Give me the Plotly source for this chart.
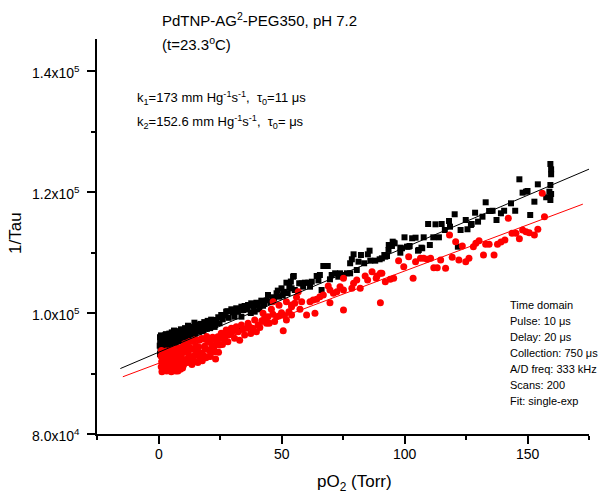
import numpy as np
import plotly.graph_objects as go

# ---------------- data ----------------
black_x = [
    0.6, 0.7, 0.5, 0.8, 0.6, 1.2, 1.5, 1.8, 2.0, 2.3, 2.6, 2.9, 3.2, 3.5, 3.8, 4.1, 4.4, 4.7, 5.0,
    5.4, 5.8, 6.1, 6.5, 6.8, 7.2, 7.6, 8.0, 8.3, 8.7, 9.1, 9.5, 9.8, 1.0, 3.0, 2.2, 4.5, 6.3, 7.0,
    0.9, 1.6, 2.4, 2.8, 3.3, 3.9, 4.3, 4.9, 5.2, 5.7, 6.0, 6.6, 7.3, 7.8, 8.5, 9.0, 9.6,
    10.3, 10.8, 11.4, 12.0, 12.6, 13.2, 13.8, 14.6, 15.2, 15.9, 16.5, 17.2, 17.9, 18.6, 19.3, 20.0,
    20.7, 21.4, 22.1, 22.8,
    10.5, 11.0, 11.8, 12.3, 13.0, 13.5, 14.2, 14.9, 15.6, 16.2, 16.9, 17.6, 18.2, 19.0, 19.7, 20.3,
    21.0, 21.7, 22.4, 23.0,
    23.4, 24.8, 25.5, 26.1, 27.5, 28.5, 29.6, 30.9, 31.6, 33.0, 33.7, 33.7, 35.0, 36.4, 37.5, 37.7,
    39.1, 39.8, 41.0, 41.8, 43.0, 44.5, 45.5, 47.0, 48.0, 49.0, 50.0, 51.0, 52.0, 53.2, 54.1, 54.7,
    55.0, 55.4,
    24.3, 27.0, 28.0, 30.2, 32.3, 34.5, 36.0, 38.5, 40.3, 42.5, 44.0, 46.3, 48.5, 50.5, 52.5, 53.8,
    57.2, 58.2, 58.8, 59.5, 60.9, 61.6, 62.3, 64.3, 65.0, 65.6, 66.3, 67.0, 68.8, 69.7, 70.4, 71.8,
    73.1, 73.8, 75.2, 76.6, 77.9, 77.9, 78.6, 79.3, 80.6, 81.3, 82.3, 83.6, 85.1, 85.8, 86.1, 88.1,
    89.9, 90.8, 91.8, 92.2, 92.9, 93.5, 93.6,
    94.9, 95.2, 95.6, 96.0, 98.3, 98.3, 99.0, 100.0, 101.0, 101.7, 102.1, 103.1, 104.5, 105.5, 105.8,
    106.9, 107.2, 107.8, 109.6, 110.3, 111.7, 112.6, 114.0, 115.1, 116.4, 118.1, 118.5, 120.4, 121.7,
    122.8, 124.9, 125.6, 127.0, 127.3, 128.7, 129.9, 131.7, 133.0, 134.4, 135.0, 135.8, 137.4, 139.2,
    140.5, 143.3, 145.0, 146.7, 148.0, 149.4, 150.0, 151.1, 152.8, 154.2, 157.6, 158.9, 159.3, 159.3,
    159.6, 159.6, 159.6, 159.3,
]
black_y = [
    96000, 95300, 94600, 93900, 93200, 95800, 94800, 96100, 93700, 95200, 96300, 94300, 95700, 96400,
    93900, 95000, 96600, 95900, 94500, 96800, 95400, 96500, 94900, 96900, 95700, 96300, 97000, 95400,
    96600, 97300, 96000, 97200, 96300, 96500, 94600, 94000, 97100, 94800,
    95000, 95500, 95800, 95000, 94800, 95400, 95800, 96100, 95300, 96300, 95700, 96100, 96700, 95300,
    95900, 96400, 96700,
    96300, 97500, 96800, 97900, 97200, 96500, 97700, 98400, 97400, 98100, 96900, 98200, 97600, 98500,
    97900, 98700, 98000, 98900, 98200, 97700,
    95600, 96400, 97300, 96100, 97600, 96900, 97100, 96600, 97700, 97600, 97300, 98000, 97000, 98300,
    97400, 98100, 97500, 98400, 98600, 98000,
    98840, 98300, 99670, 98960, 100220, 99200, 100610, 99390, 100780, 97310, 101040, 99390, 101160,
    101320, 100000, 101600, 100220, 101700, 100600, 102040, 101500, 102980, 101800, 102430, 103260,
    102700, 104080, 103500, 105010, 104300, 104080, 106000, 106120, 103800,
    99300, 99600, 100300, 100100, 100200, 100500, 100600, 101000, 101200, 101200, 102100, 102600,
    103700, 102900, 103300, 105200,
    104910, 104910, 104350, 105010, 105010, 104350, 105170, 106120, 105400, 106280, 103800, 107770,
    107770, 105570, 106280, 106560, 106000, 106560, 106280, 106560, 106560, 108220, 108880, 109700,
    107110, 108480, 109590, 108220, 109700, 110300, 108650, 108650, 108880, 109040, 109590, 109310,
    109420, 110420, 111240,
    111080, 111790, 111620, 111520, 110800, 109970, 110700, 112510, 110960, 110960, 111080, 112350,
    112450, 110300, 110420, 110800, 110700, 112510, 114710, 111240, 112510, 114660, 112510, 114710,
    113720, 115210, 114270, 116320, 110960, 113720, 115370, 113840, 114550, 114710, 116580, 115100,
    115920, 118300, 116860, 116860, 116900, 115370, 116480, 116900, 118130, 116900, 122100, 119890,
    120050, 120170, 116200, 118400, 121270, 119130, 120050, 121160, 118680, 119670, 122930, 123750,
    124630,
]

red_x = [
    1.2, 1.0, 1.3, 1.1, 1.4, 2.2, 2.5, 2.3, 2.7, 3.2, 3.4, 3.6, 3.9, 4.3, 4.6, 4.9, 5.2, 5.6, 5.9,
    6.2, 6.5, 6.9, 7.2, 7.6, 7.9, 8.3, 8.7, 9.0, 9.4, 9.8, 10.0,
    1.7, 1.9, 2.0, 1.6, 2.9, 3.0, 3.1, 3.3, 4.0, 4.2, 4.4, 4.8, 5.0, 5.5, 5.8, 6.0, 6.4, 6.8, 7.0,
    7.4, 7.8, 8.1, 8.5, 8.9, 9.2, 9.6,
    10.6, 11.2, 11.8, 12.4, 13.0, 13.6, 14.2, 14.8, 15.4, 16.0, 16.6, 17.2, 17.8, 18.4, 19.0, 19.6,
    20.2, 20.8, 21.4, 22.0, 22.6, 23.2,
    10.2, 10.4, 11.0, 11.5, 11.9, 12.2, 12.8, 13.3, 13.8, 14.5, 15.0, 15.7, 16.3, 16.9, 17.5, 18.1,
    18.7, 19.3, 19.9, 20.5, 21.1, 21.7, 22.3, 22.9, 23.6, 24.4, 25.0, 26.0, 26.8, 27.0,
    24.1, 24.8, 25.5, 27.5, 28.2, 29.6, 30.9, 31.6, 33.7, 35.0, 36.4, 37.5, 39.1, 39.8, 42.5, 43.9,
    44.5, 45.9, 46.6, 48.0, 49.0, 50.0, 50.7, 52.0, 52.0, 54.1,
    26.5, 28.8, 30.0, 32.4, 33.0, 34.3, 35.8, 37.0, 38.3, 40.5, 41.2, 42.0, 43.2, 45.0, 46.5, 47.2,
    49.0, 51.2, 53.0,
    54.1, 54.1, 55.4, 56.1, 56.8, 57.5, 58.2, 60.2, 61.6, 62.9, 63.6, 64.3, 65.6, 67.0, 69.0, 69.7,
    69.7, 71.1, 72.5, 73.8, 75.2, 75.2, 75.2, 78.6, 79.3, 80.6, 82.0, 84.0, 85.0, 86.8, 88.5, 88.8,
    90.2, 90.2,
    90.8, 92.2, 94.2, 95.6, 97.6, 99.7, 101.7, 103.5, 104.5, 106.5, 107.8, 109.2, 110.6, 111.9,
    113.3, 114.7, 116.7, 118.3, 119.4, 120.8, 122.1, 123.5, 124.9, 126.2, 128.0, 129.0, 130.3,
    132.1, 133.0, 134.4, 136.4, 137.8, 139.2, 140.8, 142.2, 143.7, 145.3, 146.7, 148.0, 149.4,
    150.7, 152.8, 154.2, 156.0, 156.9,
]
red_y = [
    93800, 92900, 92000, 91100, 90300, 93400, 92400, 91500, 90500, 93700, 92800, 91700, 90700, 93500,
    92300, 91200, 90300, 93900, 92900, 91800, 90600, 94100, 92600, 91400, 90400, 93800, 92900, 91700,
    94300, 90900, 92200,
    93100, 92000, 90900, 91600, 93200, 92100, 91200, 90400, 93000, 91900, 90900, 93800, 92800, 91600,
    90800, 93400, 92300, 91200, 90400, 93500, 92300, 91100, 94200, 90700, 92800, 93400,
    94900, 93600, 95100, 92300, 94200, 91500, 95300, 93000, 94500, 91800, 95500, 93400, 92100, 95700,
    94100, 96100, 92800, 95200, 93700, 96000, 94400, 92400,
    91400, 93700, 92300, 94300, 91800, 93200, 95300, 92700, 94000, 92100, 95600, 93500, 94400, 92700,
    95800, 93100, 94500, 92600, 95400, 93900, 92800, 94600, 95700, 93600, 95300, 93500, 95800, 94800,
    96500, 95600,
    96080, 94710, 96650, 97190, 95260, 97470, 95820, 97740, 98020, 96360, 98300, 96600, 98840, 96910,
    99950, 98300, 99390, 100610, 101870, 99390, 101300, 100050, 97080, 101870, 98840, 101040,
    96000, 96400, 96900, 96900, 95500, 97300, 97500, 97700, 97500, 98000, 97600, 98700, 99200, 98300,
    99800, 98600, 99500, 99600, 100200,
    101320, 99670, 101600, 102600, 103520, 100610, 101870, 99670, 101870, 102150, 99950, 102260,
    102700, 102980, 104460, 103800, 101700, 103260, 103520, 104350, 105740, 103800, 100500, 104080,
    104910, 105460, 104080, 106120, 105460, 106830, 105740, 106120, 106560, 101700,
    106560, 105170, 105570, 105740, 108650, 107650, 109310, 105740, 108480, 109040, 109040, 108880,
    109040, 107490, 107490, 108760, 107390, 112900, 109210, 111790, 108760, 111080, 108480, 109040,
    110960, 111520, 111950, 109590, 111360, 111360, 109590, 111360, 111740, 112070, 115650, 113180,
    113180, 112280, 113720, 113440, 113270, 112900, 113840, 119790, 115920,
]

# linear fits (slope in mm Hg^-1 s^-1, intercept 1/tau0)
k1, b1 = 173.0, 93500.0
k2, b2 = 152.6, 91670.0
fit1_x = [-15.5, 175.0]
fit2_x = [-14.5, 172.5]

x_ticks = [0, 50, 100, 150]
x_ticktext = ["0", "50", "100", "150"]
x_minor = [-25, 25, 75, 125, 175]
y_ticks = [80000, 100000, 120000, 140000]
y_ticktext = ["8.0x10<sup>4</sup>", "1.0x10<sup>5</sup>", "1.2x10<sup>5</sup>", "1.4x10<sup>5</sup>"]
y_minor = [90000, 110000, 130000]

info_lines = ["Time domain", "Pulse: 10 \u03bcs", "Delay: 20 \u03bcs", "Collection: 750 \u03bcs",
              "A/D freq: 333 kHz", "Scans: 200", "Fit: single-exp"]

# ---------------- figure ----------------
FONT = "Liberation Sans, Arial, sans-serif"
W, H = 600, 498
L, R, T, B = 97, 11, 39, 64
pw, ph = W - L - R, H - T - B

def px(xp):
    return (xp - L) / pw

def py(yp):
    return (H - B - yp) / ph

fig = go.Figure()
fig.add_trace(go.Scatter(x=black_x, y=black_y, mode="markers",
                         marker=dict(symbol="square", size=6, color="#000000", line=dict(width=0)),
                         showlegend=False, hoverinfo="skip"))
fig.add_trace(go.Scatter(x=red_x, y=red_y, mode="markers",
                         marker=dict(symbol="circle", size=7, color="#ff0000", line=dict(width=0)),
                         showlegend=False, hoverinfo="skip"))
f1x = np.array(fit1_x)
f2x = np.array(fit2_x)
fig.add_trace(go.Scatter(x=f1x, y=b1 + k1 * f1x, mode="lines",
                         line=dict(color="#000000", width=1), showlegend=False, hoverinfo="skip"))
fig.add_trace(go.Scatter(x=f2x, y=b2 + k2 * f2x, mode="lines",
                         line=dict(color="#ff0000", width=1), showlegend=False, hoverinfo="skip"))

axis_common = dict(showgrid=False, zeroline=False, showline=True, linecolor="#000000", linewidth=2,
                   ticks="outside", ticklen=8, tickwidth=1.5, tickcolor="#000000",
                   showticklabels=False, mirror=False)

fig.update_layout(
    width=W, height=H,
    margin=dict(l=L, r=R, t=T, b=B),
    paper_bgcolor="white", plot_bgcolor="white",
    font=dict(family=FONT, color="#000000"),
    xaxis=dict(range=[-25, 175], tickmode="array", tickvals=x_ticks,
               minor=dict(tickmode="array", tickvals=x_minor, ticks="outside", ticklen=4,
                          tickwidth=1.5, tickcolor="#000000"),
               **axis_common),
    yaxis=dict(range=[80000, 145290], tickmode="array", tickvals=y_ticks,
               minor=dict(tickmode="array", tickvals=y_minor, ticks="outside", ticklen=4,
                          tickwidth=1.5, tickcolor="#000000"),
               **axis_common),
)

ann = []
# tick labels (placed against the axes' own data coordinates)
for v, t in zip(x_ticks, x_ticktext):
    ann.append(dict(text=t, x=v, xref="x", y=py(454), yref="paper", xanchor="center",
                    yanchor="middle", font=dict(size=14)))
for v, t in zip(y_ticks, y_ticktext):
    ann.append(dict(text=t, x=px(82), xref="paper", y=v, yref="y", xanchor="right",
                    yanchor="middle", yshift=-1, font=dict(size=14)))

ann.append(dict(text="PdTNP-AG<sup>2</sup>-PEG350, pH 7.2", x=px(160), y=py(20),
                xanchor="left", yanchor="middle", font=dict(size=15)))
ann.append(dict(text="(t=23.3<sup>o</sup>C)", x=px(160), y=py(43),
                xanchor="left", yanchor="middle", font=dict(size=15)))
ann.append(dict(text="k<sub>1</sub>=173 mm Hg<sup>-1</sup>s<sup>-1</sup>,  \u03c4<sub>0</sub>=11 \u03bcs",
                x=px(135), y=py(98), xanchor="left", yanchor="middle", font=dict(size=13)))
ann.append(dict(text="k<sub>2</sub>=152.6 mm Hg<sup>-1</sup>s<sup>-1</sup>,  \u03c4<sub>0</sub>= \u03bcs",
                x=px(135), y=py(122), xanchor="left", yanchor="middle", font=dict(size=13)))
for i, t in enumerate(info_lines):
    ann.append(dict(text=t, x=px(508), y=py(305 + 16 * i), xanchor="left", yanchor="middle",
                    font=dict(size=11)))
ann.append(dict(text="1/Tau", x=px(16), y=py(233), textangle=-90, xanchor="center",
                yanchor="middle", font=dict(size=17)))
ann.append(dict(text="pO<sub>2</sub> (Torr)", x=px(354), y=py(483), xanchor="center",
                yanchor="middle", font=dict(size=17)))
for a in ann:
    a.setdefault("xref", "paper")
    a.setdefault("yref", "paper")
    a["showarrow"] = False
    a["font"].update(family=FONT, color="#000000")
fig.update_layout(annotations=ann)

fig.write_html("out.html", config={"displayModeBar": False},
               post_script="document.body.style.margin='0px';document.body.style.padding='0px';")
